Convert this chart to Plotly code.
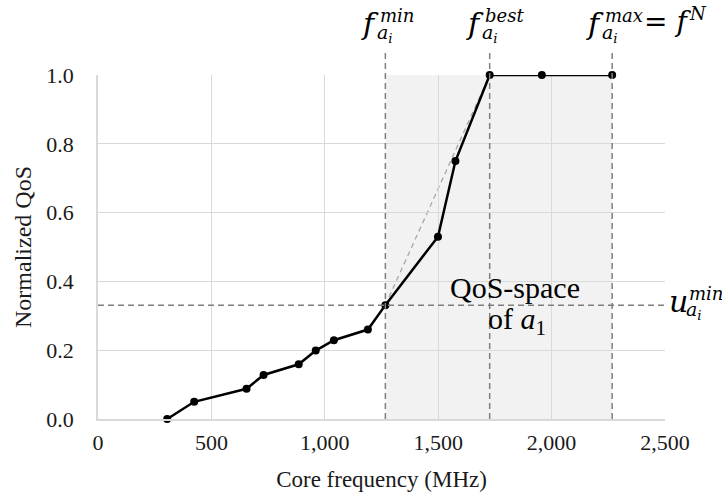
import plotly.graph_objects as go

# ---- data ----
freq_mhz = [305, 424, 655, 730, 885, 960, 1040, 1190, 1267, 1499, 1576, 1727, 1957, 2267]
qos_norm = [0.0, 0.05, 0.088, 0.128, 0.159, 0.199, 0.229, 0.26, 0.331, 0.53, 0.75, 1.0, 1.0, 1.0]
f_min = 1267
f_best = 1727
f_max = 2267
u_min = 0.331
x_ticks = [0, 500, 1000, 1500, 2000, 2500]
y_ticks = [0.0, 0.2, 0.4, 0.6, 0.8, 1.0]

W, H = 722, 499
L, R, T, B = 98, 57, 75, 80
PW, PH = W - L - R, H - T - B

def px(x):
    return (x - L) / PW

def py(y):
    return (H - B - y) / PH

GRID = "#d9d9d9"
DASH = "#7f7f7f"
SERIF = "Liberation Serif"
MATH = "DejaVu Serif"
TXT = "#1a1a1a"

fig = go.Figure()

fig.add_trace(go.Scatter(
    x=freq_mhz, y=qos_norm, mode="lines+markers",
    line=dict(color="black", width=2.5),
    marker=dict(color="black", size=8),
    showlegend=False, cliponaxis=False,
))

shapes = [
    dict(type="rect", xref="x", yref="y", x0=f_min, x1=f_max, y0=0, y1=1,
         fillcolor="#f2f2f2", line=dict(width=0), layer="below"),
    dict(type="line", xref="x", yref="y", x0=f_min, y0=u_min, x1=f_best, y1=1.0,
         line=dict(color="#a6a6a6", width=1.3, dash="5px,4px"), layer="below"),
    dict(type="line", xref="paper", yref="y", x0=0, x1=1, y0=u_min, y1=u_min,
         line=dict(color=DASH, width=1.5, dash="6px,4px"), layer="above"),
]
for fx in (f_min, f_best, f_max):
    shapes.append(dict(type="line", xref="x", yref="paper", x0=fx, x1=fx,
                       y0=0, y1=py(53), line=dict(color=DASH, width=1.5, dash="6px,4px"),
                       layer="above"))

annotations = []

def ann(xp, yp, text, size, family=MATH, xanchor="left"):
    annotations.append(dict(xref="paper", yref="paper", x=px(xp), y=py(yp), text=text,
                            showarrow=False, xanchor=xanchor, yanchor="middle",
                            borderpad=0, borderwidth=0,
                            font=dict(family=family, size=size, color="black")))

def math_label(xb, yb, base, sup, sub):
    ann(xb, yb, f"<i>{base}</i>", 30, xanchor="right")
    ann(xb + 1, yb - 8, f"<i>{sup}</i>", 18)
    ann(xb - 2, yb + 9, sub, 19)

sub_ai = "<i>a</i><sub><i>i</i></sub>"
math_label(484, 24, "f", "best", sub_ai)
math_label(379, 24, "f", "min", sub_ai)
math_label(604, 24, "f", "max", sub_ai)
ann(644, 22, "= <i>f</i>", 28)
ann(689, 14, "<i>N</i>", 18)
math_label(688, 301, "u", "min", sub_ai)

ann(515, 287, "QoS-space", 30, family=SERIF, xanchor="center")
ann(488, 321, "of <i>a</i><sub>1</sub>", 30, family=SERIF)

fig.update_layout(
    width=W, height=H,
    margin=dict(l=L, r=R, t=T, b=B),
    paper_bgcolor="white", plot_bgcolor="white",
    shapes=shapes, annotations=annotations,
    font=dict(family=SERIF, size=22, color=TXT),
    xaxis=dict(range=[0, 2500], tickvals=x_ticks, tickformat=",", showgrid=True,
               gridcolor=GRID, gridwidth=1, zeroline=False, showline=True, linecolor=GRID,
               linewidth=1.5, ticks="", ticklabelstandoff=3, fixedrange=True,
               tickfont=dict(family=SERIF, size=22, color=TXT),
               title=dict(text="Core frequency (MHz)", standoff=17,
                          font=dict(family=SERIF, size=23, color=TXT))),
    yaxis=dict(range=[0, 1.0], tickvals=y_ticks, tickformat=".1f", showgrid=True,
               gridcolor=GRID, gridwidth=1, zeroline=False, showline=True, linecolor=GRID,
               linewidth=1.5, ticks="", ticklabelstandoff=18,
               tickfont=dict(family=SERIF, size=22, color=TXT),
               title=dict(text="Normalized QoS", standoff=8,
                          font=dict(family=SERIF, size=24, color=TXT))),
)

fig.write_html("out.html")
